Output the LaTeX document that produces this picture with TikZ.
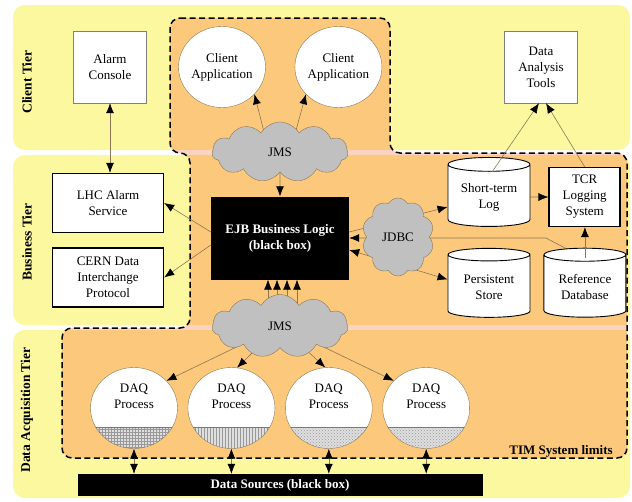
\documentclass[tikz,border=0pt]{standalone}
\usepackage{fontspec}
\setmainfont{Liberation Serif}
\usetikzlibrary{positioning, arrows.meta, shapes.geometric, shapes.symbols, patterns}
\definecolor{tieryellow}{RGB}{251,248,160}
\definecolor{timorange}{RGB}{252,201,124}
\definecolor{gappink}{RGB}{250,212,192}
\definecolor{cloudgray}{RGB}{192,192,192}
\definecolor{linec}{RGB}{140,118,84}
\pgfdeclarelayer{back}
\pgfdeclarelayer{links}
\pgfsetlayers{back,links,main}
\newcommand\timlimits{(170,18) -- (390,18) -- (390,153) -- (627,153) -- (627,458) -- (62,458) -- (62,328) -- (190,328) -- (190,153) -- (170,153) -- cycle}

\begin{document}
\begin{tikzpicture}[x=1pt, y=-1pt,
     node distance = 10pt and 10pt,
              font = \fontsize{13}{16}\selectfont,
                 > = {Latex[length=10pt, width=8pt, color=black]},
       link/.style = {draw=linec, line width=0.6pt},
       tier/.style = {fill=tieryellow, rounded corners=12pt},
  tierlabel/.style = {rotate=90, font=\fontsize{13.5}{16}\selectfont\bfseries},
       sbox/.style = {rectangle, draw=gray, fill=white, align=center, minimum width=73pt, minimum height=72pt},
       tbox/.style = {rectangle, draw, line width=1.4pt, fill=white, align=center, minimum width=111pt, minimum height=59pt},
       bbox/.style = {rectangle, fill=black, text=white, align=center, font=\fontsize{13}{16}\selectfont\bfseries},
        app/.style = {ellipse, draw=linec, fill=white, align=center, inner sep=0pt, inner xsep=-6pt,
                      minimum width=87pt, minimum height=81pt},
        daq/.style = {app, path picture={
                      \fill[gray!25] (path picture bounding box.west) ++(0,19) rectangle (path picture bounding box.south east);
                      \fill[pattern=#1, pattern color=gray!80] (path picture bounding box.west) ++(0,19) rectangle (path picture bounding box.south east);
                      \draw[linec] (path picture bounding box.west) ++(0,19) -- ++(90,0);}},
      dbase/.style = {cylinder, shape border rotate=90, aspect=0.22, draw, line width=0.9pt, fill=white, align=center,
                      minimum width=82pt, minimum height=69pt},
   jmscloud/.style = {cloud, cloud puffs=11, cloud puff arc=120, draw=linec, fill=cloudgray,
                      minimum width=136pt, minimum height=60pt}
                        ]
\useasboundingbox (0,0) rectangle (632,501);
\begin{pgfonlayer}{back}
\fill[tier] (13,5) rectangle (630,150);
\fill[tier] (13,155) rectangle (630,325);
\fill[tier] (13,330) rectangle (630,498);
\fill[timorange, rounded corners=10pt] \timlimits;
\begin{scope}
\clip[rounded corners=10pt] \timlimits;
\fill[gappink] (0,150) rectangle (632,155);
\fill[gappink] (0,325) rectangle (632,330);
\end{scope}
\draw[line width=1.5pt, dash pattern=on 6pt off 3.5pt, rounded corners=10pt] \timlimits;
\end{pgfonlayer}

\node (ctier) [tierlabel] at (27,82) {Client Tier};
\node (btier) [tierlabel] at (27,242) {Business Tier};
\node (dtier) [tierlabel] at (27,410) {Data Acquisition Tier};

\node (ac)  [sbox] at (110,67) {Alarm\\Console};
\node (ca1) [app] at (222,67) {Client\\Application};
\node (ca2) [app, right=29pt of ca1] {Client\\Application};
\node (dat) [sbox] at (541,67) {Data\\Analysis\\Tools};
\node (jms1) [jmscloud] at (280,152) {JMS};
\node (ejb) [bbox, minimum width=138pt, minimum height=83pt] at (280,238) {EJB Business Logic\\(black box)};
\node (lhc) [tbox] at (108,203) {LHC Alarm\\Service};
\node (cern) [tbox, below=14pt of lhc] {CERN Data\\Interchange\\Protocol};
\node (stlog) [dbase] at (489,197) {Short-term\\Log};
\node (tcr) [tbox, minimum width=71pt, right=18pt of stlog] {TCR\\Logging\\System};
\node (pstore) [dbase, below=21pt of stlog] {Persistent\\Store};
\node (refdb) [dbase, right=13pt of pstore] {Reference\\Database};
\node (jdbc) [jmscloud, cloud puffs=10, minimum width=72pt, minimum height=78pt] at (398,237) {JDBC};
\node (jms2) [jmscloud, minimum height=63pt] at (280,326) {JMS};
\node (daq1) [daq=grid] at (134,408) {DAQ\\Process\\[2pt]\strut};
\node (daq2) [daq=vertical lines, right=10pt of daq1] {DAQ\\Process\\[2pt]\strut};
\node (daq3) [daq=crosshatch dots, right=10pt of daq2] {DAQ\\Process\\[2pt]\strut};
\node (daq4) [daq=crosshatch dots, right=10pt of daq3] {DAQ\\Process\\[2pt]\strut};
\node (ds) [bbox, minimum width=405pt, minimum height=22pt, inner sep=0pt] at (280,485) {Data Sources (black box)};
\node (tim) [font=\fontsize{13}{16}\selectfont\bfseries] at (561,451) {TIM System limits};
\coordinate (rtop) at ([yshift=29pt]refdb.center);

\begin{pgfonlayer}{links}
\draw[link, <->] (ac.south) -- (ac.south |- lhc.north);
\draw[link, ->] ([xshift=-11pt]jms1.center) -- (ca1.320);
\draw[link, ->] ([xshift=10pt]jms1.center) -- (ca2.220);
\draw[link, ->] (jms1) -- (ejb);
\draw[link, ->] ([yshift=6pt]ejb.west) -- (lhc.east);
\draw[link, ->] ([yshift=-7pt]ejb.west) -- (cern.east);
\draw[link, ->] ([xshift=-12pt]jms2.center) -- ([xshift=-12pt]ejb.south);
\draw[link, ->] ([xshift=-3pt]jms2.center) -- ([xshift=-3pt]ejb.south);
\draw[link, ->] ([xshift=7pt]jms2.center) -- ([xshift=7pt]ejb.south);
\draw[link, ->] ([xshift=17pt]jms2.center) -- ([xshift=17pt]ejb.south);
\draw[link, ->] ([yshift=6pt]ejb.east) -- ([yshift=-10pt]stlog.west);
\draw[link, <->] ([yshift=-12pt]ejb.east) -- ([yshift=8pt]pstore.west);
\draw[link, ->] (rtop) -- ([xshift=-39pt]rtop |- ejb.east) -- (ejb.east);
\draw[link, ->] (stlog) -- (tcr);
\draw[link, ->] (jms2.center) -- (daq1.40);
\draw[link, ->] (jms2.center) -- (daq2.82);
\draw[link, ->] (jms2.center) -- (daq3.95);
\draw[link, ->] (jms2.center) -- (daq4.140);
\draw[link, <->] (daq1.south) -- (daq1.south |- ds.north);
\draw[link, <->] (daq2.south) -- (daq2.south |- ds.north);
\draw[link, <->] (daq3.south) -- (daq3.south |- ds.north);
\draw[link, <->] (daq4.south) -- (daq4.south |- ds.north);
\end{pgfonlayer}
\draw[link, ->] ([shift={(3,-25)}]stlog.center) -- ([xshift=-2pt]dat.south);
\draw[link, ->] (tcr.north) -- ([xshift=5pt]dat.south);
\draw[link, ->] (rtop) -- (rtop |- tcr.south);
\end{tikzpicture}
\end{document}
